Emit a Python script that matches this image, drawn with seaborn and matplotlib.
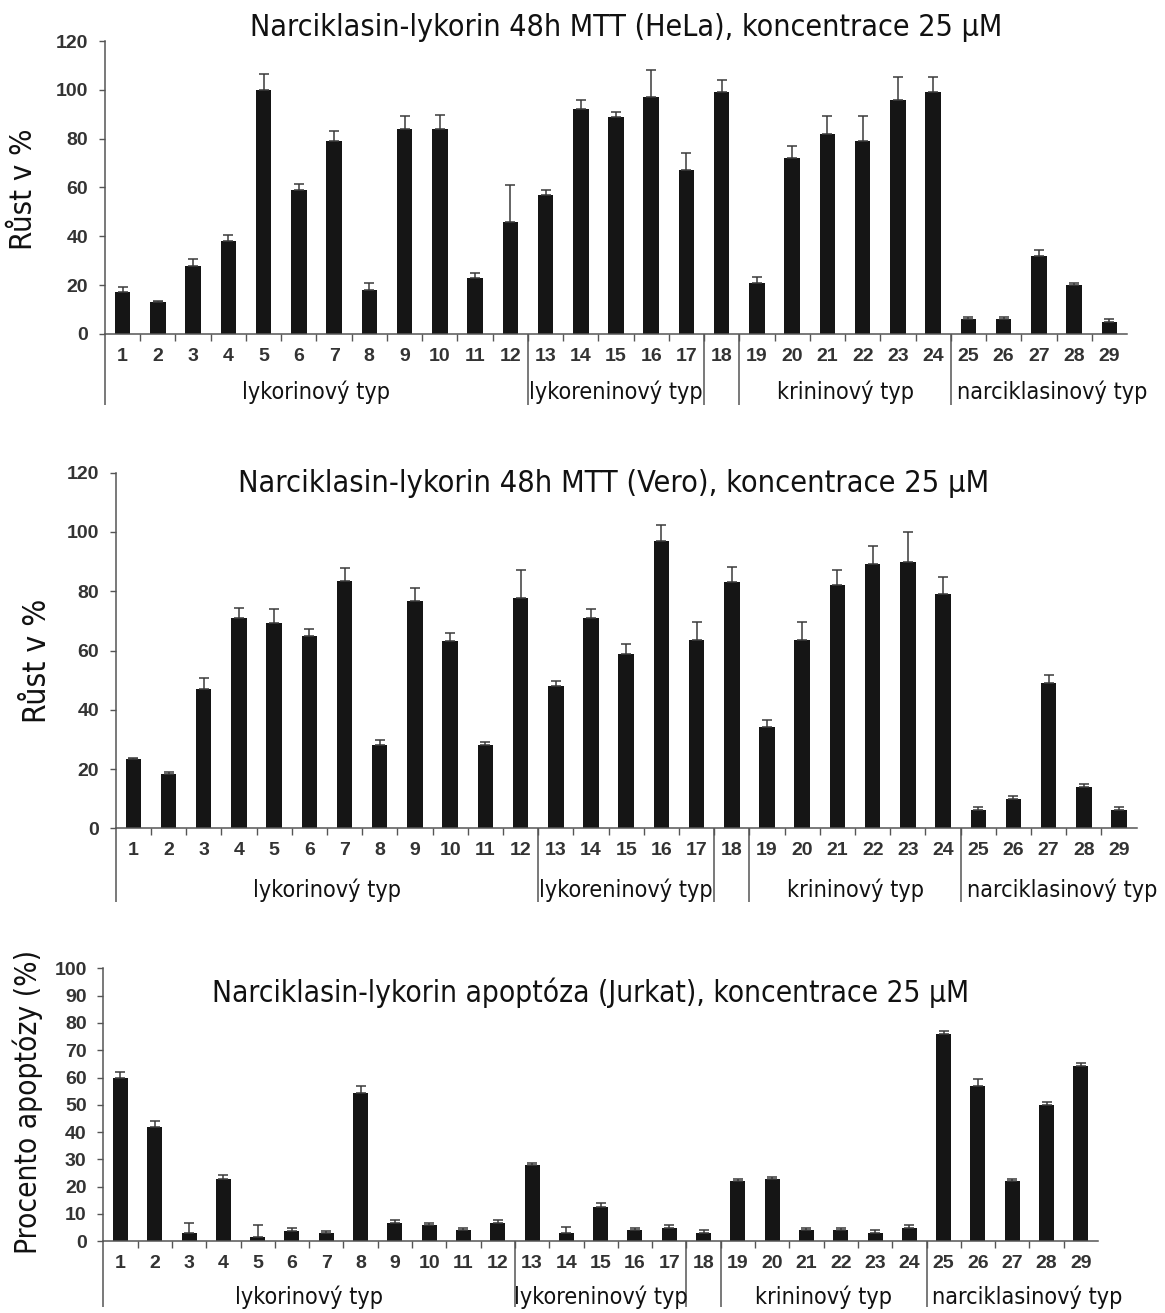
import numpy as np
import pandas as pd
import matplotlib
matplotlib.use("Agg")
import matplotlib.pyplot as plt
import seaborn as sns
from matplotlib.transforms import blended_transform_factory
from matplotlib.font_manager import FontProperties

# ---------------- data ----------------
compounds = [str(i) for i in range(1, 30)]

hela = [17, 13, 28, 38, 100, 59, 79, 18, 84, 84, 23, 46, 57, 92, 89, 97, 67, 99,
        21, 72, 82, 79, 96, 99, 6, 6, 32, 20, 5]
hela_err = [2.3, 0.5, 2.8, 2.5, 6.3, 2.6, 4.1, 3.0, 5.2, 5.7, 1.8, 15, 1.9, 3.7, 2.1,
            11, 7, 5.2, 2.5, 5.2, 7.4, 10.1, 9.3, 6.1, 1.1, 1.1, 2.4, 0.7, 1.1]

vero = [23.5, 18.2, 47, 71, 69.3, 65, 83.6, 28.1, 76.6, 63.1, 28.1, 77.8, 48, 70.8,
        58.8, 96.8, 63.7, 83.2, 34.2, 63.7, 82.1, 89.2, 89.7, 78.9, 6.1, 9.8, 49.2,
        14.1, 6.1]
vero_err = [0.3, 0.8, 3.7, 3.3, 4.8, 2.2, 4.4, 1.6, 4.6, 2.8, 1.1, 9.3, 1.7, 3.3, 3.4,
            5.5, 6, 4.9, 2.2, 6, 5.1, 5.9, 10.4, 6, 1.1, 1.1, 2.7, 0.9, 1.0]

jurkat = [60, 42, 2.9, 23, 1.7, 3.9, 3.0, 54.2, 6.7, 5.9, 4.0, 6.7, 27.9, 3.1, 12.6,
          4.0, 5.0, 3.1, 22, 22.7, 4.0, 4.0, 3.1, 5.0, 75.9, 57, 22, 49.9, 64.3]
jurkat_err = [2, 2.1, 3.9, 1.2, 4.2, 1, 0.9, 2.8, 1, 0.8, 1, 1, 0.8, 2.2, 1.5, 1, 0.9,
              1, 0.7, 0.9, 1, 1, 0.9, 1, 1.1, 2.3, 0.8, 1, 0.9]

group_names = ["lykorinový typ", "lykoreninový typ", "krininový typ", "narciklasinový typ"]
separator_after = [12, 17, 18, 24]  # vertical lines after these compounds

titles = ["Narciklasin-lykorin 48h MTT (HeLa), koncentrace 25 µM",
          "Narciklasin-lykorin 48h MTT (Vero), koncentrace 25 µM",
          "Narciklasin-lykorin apoptóza (Jurkat), koncentrace 25 µM"]
ylabels = ["Růst v %", "Růst v %", "Procento apoptózy (%)"]

# ---------------- layout ----------------
W, H = 1165, 1313
sns.set_theme(style="white")
plt.rcParams["font.family"] = ["DejaVu Sans"]
fig = plt.figure(figsize=(W / 100, H / 100), dpi=100)
fig.patch.set_facecolor("white")

BAR = "#151515"
AXC = "#555555"
TICKC = "#333333"
tick_font = dict(family="Liberation Sans", weight="bold", size=14, color=TICKC)
label_fp = FontProperties(family="DejaVu Sans", stretch="condensed")

panels = [
    dict(vals=hela, err=hela_err, l=105, r=1127, t=41, b=334, ymax=120, step=20,
         tx=626, ty=28, tw=752, ylx=24, yly=189, ylh=122, sep=71, gy=58),
    dict(vals=vero, err=vero_err, l=115.7, r=1136.7, t=472.7, b=828.3, ymax=120, step=20,
         tx=614, ty=483, tw=749, ylx=38, yly=661, ylh=125, sep=74, gy=62),
    dict(vals=jurkat, err=jurkat_err, l=103.3, r=1098, t=968.3, b=1241.3, ymax=100, step=10,
         tx=591, ty=993, tw=757, ylx=28, yly=1102, ylh=305, sep=66, gy=56),
]

fit_items = []
for i, p in enumerate(panels):
    ax = fig.add_axes([p["l"] / W, 1 - p["b"] / H, (p["r"] - p["l"]) / W, (p["b"] - p["t"]) / H])
    df = pd.DataFrame({"compound": compounds, "value": p["vals"]})
    sns.barplot(data=df, x="compound", y="value", order=compounds, color=BAR,
                saturation=1, width=0.44, errorbar=None, ax=ax, linewidth=0)
    xs = np.arange(len(compounds))
    ax.errorbar(xs, p["vals"], yerr=[np.zeros(len(xs)), p["err"]], fmt="none",
                ecolor="#3a3a3a", elinewidth=1.1, capsize=3.8, capthick=1.1, zorder=1)
    ax.set_xlim(-0.5, len(compounds) - 0.5)
    ax.set_ylim(0, p["ymax"])
    ax.set_xlabel("")
    ax.set_ylabel("")
    for s in ["top", "right"]:
        ax.spines[s].set_visible(False)
    for s in ["left", "bottom"]:
        ax.spines[s].set_color(AXC)
        ax.spines[s].set_linewidth(1.1)
    ax.set_yticks(np.arange(0, p["ymax"] + 1, p["step"]))
    ax.set_xticks(xs)
    ax.set_xticklabels(compounds)
    ax.set_xticks(xs[:-1] + 0.5, minor=True)
    ax.tick_params(axis="x", which="major", length=0, pad=10)
    ax.tick_params(axis="x", which="minor", length=5, width=1, color=AXC, direction="out", bottom=True)
    ax.tick_params(axis="y", which="major", length=4, width=1, color=AXC, direction="out", pad=8, left=True)
    for lab in ax.get_xticklabels() + ax.get_yticklabels():
        lab.set_fontfamily(tick_font["family"])
        lab.set_fontweight(tick_font["weight"])
        lab.set_fontsize(tick_font["size"])
        lab.set_color(tick_font["color"])

    hpx = p["b"] - p["t"]
    trans = blended_transform_factory(ax.transData, ax.transAxes)
    for xpos in [-0.5] + [a - 0.5 for a in separator_after]:
        ax.plot([xpos, xpos], [0, -p["sep"] / hpx], transform=trans, color=AXC,
                lw=1.1, clip_on=False, solid_capstyle="butt")

    gy = -p["gy"] / hpx
    g_texts = []
    g_texts.append(ax.text(5.5, gy, group_names[0], transform=trans, ha="center", va="center",
                           fontproperties=label_fp, color="#111111"))
    g_texts.append(ax.text(14.0, gy, group_names[1], transform=trans, ha="center", va="center",
                           fontproperties=label_fp, color="#111111"))
    g_texts.append(ax.text(20.5, gy, group_names[2], transform=trans, ha="center", va="center",
                           fontproperties=label_fp, color="#111111"))
    g_texts.append(ax.text(23.5 + 0.17, gy, group_names[3], transform=trans, ha="left", va="center",
                           fontproperties=label_fp, color="#111111"))
    for t in g_texts:
        t.set_fontsize(14)

    title = fig.text(p["tx"] / W, 1 - p["ty"] / H, titles[i], ha="center", va="center",
                     fontproperties=label_fp, color="#111111")
    title.set_fontsize(18)
    ylab = fig.text(p["ylx"] / W, 1 - p["yly"] / H, ylabels[i], ha="center", va="center",
                    rotation=90, fontproperties=label_fp, color="#111111")
    ylab.set_fontsize(16)
    fit_items.append((title, p["tw"], "w"))
    fit_items.append((ylab, p["ylh"], "h"))
    fit_items.append((g_texts, 192, "group"))

# fit text sizes to measured extents of the reference
fig.canvas.draw()
renderer = fig.canvas.get_renderer()
for obj, target, mode in fit_items:
    if mode == "w":
        w = obj.get_window_extent(renderer).width
        obj.set_fontsize(obj.get_fontsize() * target / w)
    elif mode == "h":
        h = obj.get_window_extent(renderer).height
        obj.set_fontsize(obj.get_fontsize() * target / h)
    else:
        ref = obj[3]
        w = ref.get_window_extent(renderer).width
        fs = ref.get_fontsize() * target / w
        for t in obj:
            t.set_fontsize(fs)

fig.savefig("out.png", dpi=100, facecolor="white")
